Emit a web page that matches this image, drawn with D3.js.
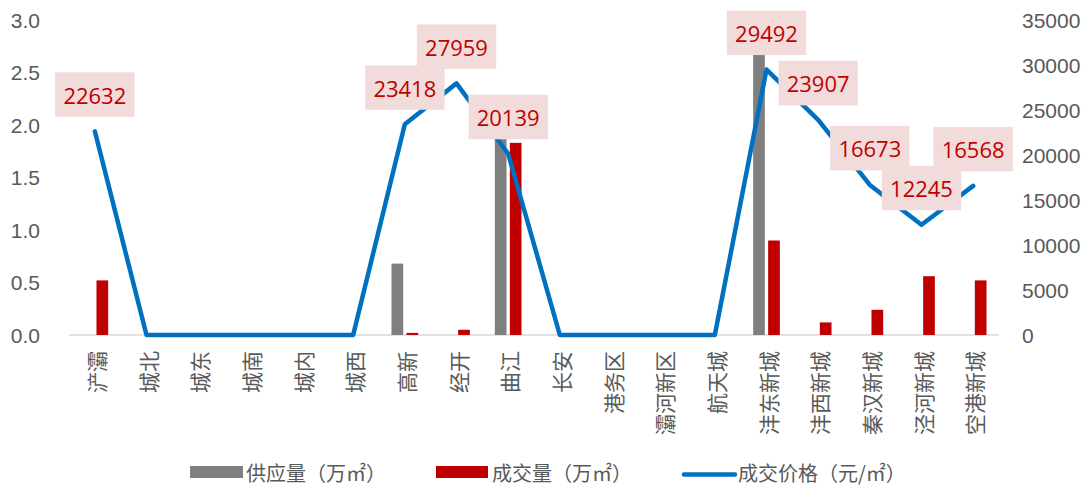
<!DOCTYPE html>
<html>
<head>
<meta charset="utf-8">
<script src="https://cdn.jsdelivr.net/npm/d3@7/dist/d3.min.js"></script>
<style>
  html, body { margin: 0; padding: 0; background: #fff; }
  svg { display: block; font-family: "Open Sans", "Noto Sans CJK SC", sans-serif; }
</style>
</head>
<body>
<svg id="chart" width="1086" height="486"></svg>
<script>
// ---- data ----
const categories = ["浐灞","城北","城东","城南","城内","城西","高新","经开","曲江","长安","港务区","灞河新区","航天城","沣东新城","沣西新城","秦汉新城","泾河新城","空港新城"];
const supply = [0,0,0,0,0,0,0.68,0,1.9,0,0,0,0,2.8,0,0,0,0];
const deal   = [0.52,0,0,0,0,0,0.02,0.05,1.83,0,0,0,0,0.9,0.12,0.24,0.56,0.52];
const price  = [22632,0,0,0,0,0,23418,27959,20139,0,0,0,0,29492,23907,16673,12245,16568];
const leftTicks  = [0,0.5,1,1.5,2,2.5,3];
const rightTicks = [0,5000,10000,15000,20000,25000,30000,35000];
const seriesNames = ["供应量（万㎡）","成交量（万㎡）","成交价格（元/㎡）"];

// ---- layout ----
const svg = d3.select("#chart");
const L = 69, R = 999, T = 20, B = 335;
const colors = { supply: "#7F7F7F", deal: "#C00000", price: "#0070C0" };
const tickColor = "#595959";

const x = d3.scaleBand().domain(categories).range([L, R]).padding(0);
const x1 = d3.scaleBand().domain(["supply","deal"]).range([0, x.bandwidth()]).paddingInner(0.22).paddingOuter(0.832);
const yL = d3.scaleLinear().domain([0, 3]).range([B, T]);
const yR = d3.scaleLinear().domain([0, 35000]).range([B, T]);

// axis baseline
svg.append("line").attr("x1", L).attr("x2", R).attr("y1", yL(0)).attr("y2", yL(0))
  .attr("stroke", "#D9D9D9").attr("stroke-width", 1.3);

// left axis
const gL = svg.append("g").attr("transform", `translate(${L},0)`)
  .call(d3.axisLeft(yL).tickValues(leftTicks).tickFormat(d3.format(".1f")).tickSize(0).tickPadding(29));
gL.select(".domain").remove();
gL.selectAll("text").attr("fill", tickColor).style("font-size", "21px").attr("dy", "0.35em");

// right axis
const gR = svg.append("g").attr("transform", `translate(${R},0)`)
  .call(d3.axisRight(yR).tickValues(rightTicks).tickFormat(d3.format("d")).tickSize(0).tickPadding(23));
gR.select(".domain").remove();
gR.selectAll("text").attr("fill", tickColor).style("font-size", "21px").attr("dy", "0.35em");

// x labels (vertical)
const gX = svg.append("g");
gX.selectAll("text").data(categories).enter().append("text")
  .attr("transform", d => `translate(${x(d) + x.bandwidth()/2 + 1},351) rotate(-90)`)
  .attr("text-anchor", "end").attr("dominant-baseline", "central")
  .attr("fill", tickColor).style("font-size", "21px").style("font-family", "'Noto Sans CJK SC', sans-serif")
  .text(d => d);

// bars
const barData = categories.map((c, i) => ({ c, supply: supply[i], deal: deal[i] }));
const gBars = svg.append("g");
["supply","deal"].forEach(k => {
  gBars.selectAll(".b-" + k).data(barData.filter(d => d[k] > 0)).enter().append("rect")
    .attr("x", d => x(d.c) + x1(k))
    .attr("width", x1.bandwidth())
    .attr("y", d => yL(d[k]))
    .attr("height", d => yL(0) - yL(d[k]))
    .attr("fill", colors[k]);
});

// price line
const line = d3.line().x((d, i) => x(categories[i]) + x.bandwidth()/2).y(d => yR(d));
svg.append("path").datum(price).attr("d", line)
  .attr("fill", "none").attr("stroke", colors.price).attr("stroke-width", 4.5)
  .attr("stroke-linejoin", "round").attr("stroke-linecap", "round");

// data labels
const gLab = svg.append("g");
price.forEach((v, i) => {
  if (v <= 0) return;
  const cx = x(categories[i]) + x.bandwidth()/2;
  const py = yR(v);
  const g = gLab.append("g");
  const rect = g.append("rect").attr("fill", "#F2DCDB");
  const t = g.append("text").attr("x", cx).attr("y", py - 14.5 - 22)
    .attr("text-anchor", "middle").attr("dominant-baseline", "central")
    .attr("fill", "#C00000").style("font-size", "22px").text(v);
  const bb = t.node().getBBox();
  const w = bb.width + 16.5, h = 44.5;
  rect.attr("x", cx - w/2).attr("y", py - 14.5 - h).attr("width", w).attr("height", h);
});

// legend
const gLeg = svg.append("g").style("font-size", "20px");
const legX = [190, 436, 682];
const legY = 472;
gLeg.append("rect").attr("x", legX[0]).attr("y", 466).attr("width", 53).attr("height", 12).attr("fill", colors.supply);
gLeg.append("rect").attr("x", legX[1]).attr("y", 466).attr("width", 52).attr("height", 12).attr("fill", colors.deal);
gLeg.append("line").attr("x1", legX[2] + 2).attr("x2", legX[2] + 53).attr("y1", 474.5).attr("y2", 474.5)
  .attr("stroke", colors.price).attr("stroke-width", 4.5).attr("stroke-linecap", "round");
seriesNames.forEach((n, i) => {
  gLeg.append("text").attr("x", legX[i] + 56).attr("y", legY).attr("dominant-baseline", "central")
    .attr("fill", tickColor).style("font-family", "'Noto Sans CJK SC', sans-serif").text(n);
});
</script>
</body>
</html>
